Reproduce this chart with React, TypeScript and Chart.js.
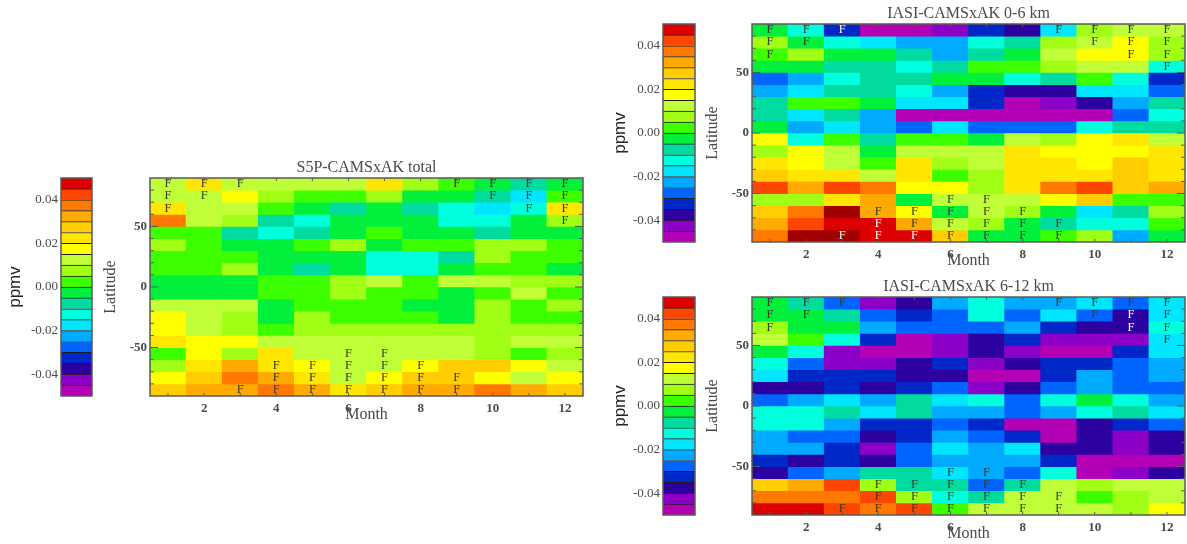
import React, { useEffect, useRef } from "react";
import { Chart, registerables } from "chart.js";

Chart.register(...registerables);

// Colour classes of the scale, bottom to top; each class is 0.005 ppmv wide, from -0.05 to 0.05.
const levelColors = [
  "#b400b4", "#8c00c8", "#2d00a0", "#0028c8", "#0064ff", "#00aaff", "#00e6ff", "#00ffdc", "#00dca0", "#00f03c",
  "#3cff00", "#a0ff14", "#c0ff38", "#ffff00", "#ffe600", "#ffcd00", "#ffaa00", "#ff7800", "#ff4600", "#dc0000",
  "#a00000",
];
const barEdges = [
  -0.05, -0.045, -0.04, -0.035, -0.03, -0.025, -0.02, -0.015, -0.01, -0.005,
  0, 0.005, 0.01, 0.015, 0.02, 0.025, 0.03, 0.035, 0.04, 0.045, 0.05,
];
const barTicks = [-0.04, -0.02, 0, 0.02, 0.04];
const months = [1, 2, 3, 4, 5, 6, 7, 8, 9, 10, 11, 12];
const latTops = [90, 80, 70, 60, 50, 40, 30, 20, 10, 0, -10, -20, -30, -40, -50, -60, -70, -80];
const latTicks = [-50, 0, 50];
const latMinor = [-80, -70, -60, -40, -30, -20, -10, 10, 20, 30, 40, 60, 70, 80];

// Colour class per latitude band (north to south) and month.
const s5pTotal = [
  [12, 14, 12, 12, 12, 12, 14, 11, 10, 9, 8, 9],
  [12, 12, 13, 11, 10, 10, 11, 9, 9, 8, 6, 10],
  [14, 12, 12, 10, 9, 8, 9, 8, 7, 6, 7, 14],
  [17, 12, 11, 8, 7, 9, 9, 9, 7, 7, 9, 11],
  [10, 10, 8, 7, 8, 9, 10, 9, 9, 8, 9, 9],
  [11, 10, 9, 9, 10, 11, 9, 10, 10, 11, 11, 10],
  [10, 10, 10, 9, 9, 9, 7, 7, 8, 11, 10, 10],
  [10, 10, 11, 9, 8, 9, 7, 7, 9, 10, 10, 9],
  [9, 9, 9, 10, 10, 11, 12, 10, 12, 12, 11, 11],
  [9, 9, 9, 10, 10, 11, 10, 10, 9, 10, 12, 10],
  [12, 12, 12, 9, 10, 10, 10, 9, 9, 11, 10, 11],
  [13, 12, 11, 9, 11, 10, 10, 10, 9, 11, 10, 10],
  [13, 12, 11, 10, 11, 11, 11, 11, 11, 11, 11, 11],
  [14, 13, 13, 12, 12, 12, 12, 12, 12, 11, 12, 12],
  [10, 13, 11, 14, 12, 12, 12, 12, 12, 11, 10, 11],
  [11, 14, 16, 14, 13, 12, 12, 13, 15, 15, 13, 12],
  [13, 15, 17, 16, 14, 12, 13, 15, 15, 13, 12, 13],
  [15, 16, 16, 17, 16, 14, 15, 16, 16, 17, 16, 15],
];
const iasi0to6 = [
  [9, 7, 3, 0, 0, 1, 3, 2, 6, 11, 12, 12],
  [11, 9, 7, 6, 5, 5, 7, 8, 11, 12, 13, 11],
  [10, 11, 9, 9, 8, 5, 8, 9, 12, 13, 13, 11],
  [9, 9, 8, 8, 7, 8, 10, 10, 11, 12, 12, 7],
  [4, 5, 7, 8, 8, 9, 9, 7, 8, 10, 7, 3],
  [5, 6, 8, 8, 7, 5, 3, 2, 2, 6, 6, 4],
  [8, 10, 10, 9, 6, 6, 3, 0, 1, 2, 5, 8],
  [8, 6, 8, 5, 0, 0, 0, 0, 0, 0, 4, 7],
  [9, 5, 6, 5, 4, 6, 4, 4, 4, 7, 8, 8],
  [13, 7, 10, 8, 10, 10, 9, 12, 11, 13, 14, 12],
  [11, 13, 12, 9, 12, 12, 12, 14, 13, 13, 13, 14],
  [14, 13, 12, 10, 14, 11, 12, 14, 14, 13, 15, 14],
  [15, 14, 14, 12, 14, 10, 11, 14, 14, 14, 15, 14],
  [18, 16, 18, 17, 13, 13, 11, 14, 17, 18, 15, 16],
  [11, 11, 14, 16, 9, 12, 12, 12, 13, 15, 10, 10],
  [15, 17, 20, 16, 13, 9, 12, 11, 9, 6, 8, 11],
  [16, 18, 19, 19, 16, 12, 11, 9, 8, 7, 7, 10],
  [17, 20, 20, 19, 19, 15, 9, 9, 10, 11, 5, 9],
];
const iasi6to12 = [
  [9, 8, 4, 1, 2, 5, 7, 5, 5, 6, 4, 6],
  [9, 9, 8, 4, 3, 4, 7, 4, 6, 4, 2, 6],
  [11, 9, 9, 5, 4, 4, 4, 5, 3, 2, 2, 7],
  [12, 10, 7, 3, 0, 1, 2, 3, 1, 1, 1, 6],
  [9, 7, 1, 0, 0, 1, 2, 1, 0, 0, 3, 6],
  [7, 4, 1, 1, 2, 3, 1, 2, 3, 3, 4, 5],
  [6, 3, 3, 3, 2, 2, 0, 0, 3, 5, 4, 5],
  [2, 2, 3, 2, 3, 4, 1, 2, 4, 5, 4, 4],
  [4, 5, 6, 5, 8, 6, 7, 4, 7, 9, 7, 5],
  [7, 7, 8, 6, 8, 5, 5, 4, 5, 7, 8, 6],
  [7, 7, 5, 3, 3, 4, 3, 0, 0, 2, 3, 4],
  [5, 4, 4, 2, 3, 5, 4, 3, 0, 2, 1, 2],
  [5, 5, 3, 1, 4, 6, 5, 6, 2, 2, 1, 2],
  [3, 2, 3, 2, 4, 5, 5, 5, 3, 0, 0, 0],
  [2, 4, 5, 8, 8, 6, 5, 4, 7, 0, 1, 2],
  [15, 16, 18, 11, 8, 8, 4, 8, 12, 11, 12, 12],
  [17, 17, 17, 18, 11, 7, 8, 12, 12, 10, 11, 12],
  [19, 19, 18, 17, 18, 10, 12, 12, 12, 12, 11, 13],
];

// "F" flags: [latitude band top, month], the same cells in every panel.
const flagCells = [
  [90, 1], [90, 2], [90, 3], [90, 9], [90, 10], [90, 11], [90, 12],
  [80, 1], [80, 2], [80, 10], [80, 11], [80, 12],
  [70, 1], [70, 11], [70, 12],
  [60, 12],
  [-50, 6], [-50, 7],
  [-60, 4], [-60, 5], [-60, 6], [-60, 7], [-60, 8],
  [-70, 4], [-70, 5], [-70, 6], [-70, 7], [-70, 8], [-70, 9],
  [-80, 3], [-80, 4], [-80, 5], [-80, 6], [-80, 7], [-80, 8], [-80, 9],
];
const whiteFlags0to6 = [[90, 3], [-70, 4], [-80, 3], [-80, 4], [-80, 5]];
const whiteFlags6to12 = [[80, 11], [70, 11]];

const SERIF = '"Liberation Serif", serif';
const SANS = '"Liberation Sans", sans-serif';
const TEXT = "#4a4a4a";
const FRAME = "#5a5a5a";

const panels = [
  { title: "S5P-CAMSxAK total", rows: s5pTotal, white: [] as number[][], left: 149.5, top: 178, w: 433.5, h: 218, barLeft: 61, barW: 31, ppmvPad: 4.8 },
  { title: "IASI-CAMSxAK 0-6 km", rows: iasi0to6, white: whiteFlags0to6, left: 751.5, top: 24, w: 433.5, h: 218, barLeft: 663, barW: 32, ppmvPad: 7.8 },
  { title: "IASI-CAMSxAK 6-12 km", rows: iasi6to12, white: whiteFlags6to12, left: 751.5, top: 296.5, w: 433.5, h: 218, barLeft: 663, barW: 32, ppmvPad: 7.8 },
];

const Y_AXIS_W = 52;
const X_AXIS_H = 30;
const TITLE_H = 24;
const BAR_AXIS_W = 61;

function heatmapDecor(white: number[][]) {
  return {
    id: "heatmapDecor",
    afterDatasetsDraw(chart: any) {
      const { ctx, chartArea: a, scales } = chart;
      const x = scales.x;
      const y = scales.y;
      ctx.save();
      ctx.textAlign = "center";
      ctx.textBaseline = "middle";
      ctx.font = `12.5px ${SERIF}`;
      for (const [lat, m] of flagCells) {
        const isWhite = white.some((c) => c[0] === lat && c[1] === m);
        ctx.fillStyle = isWhite ? "#ffffff" : "#3a3a2a";
        ctx.fillText("F", x.getPixelForValue(m - 1), y.getPixelForValue(lat - 5));
      }
      ctx.strokeStyle = FRAME;
      ctx.lineWidth = 1;
      ctx.beginPath();
      for (const m of months) {
        const px = x.getPixelForValue(m - 1);
        ctx.moveTo(px, a.top);
        ctx.lineTo(px, a.top + 3);
        ctx.moveTo(px, a.bottom);
        ctx.lineTo(px, a.bottom - 3);
      }
      for (const lat of latMinor) {
        const py = y.getPixelForValue(lat);
        ctx.moveTo(a.left, py);
        ctx.lineTo(a.left + 4, py);
        ctx.moveTo(a.right, py);
        ctx.lineTo(a.right - 4, py);
      }
      for (const lat of latTicks) {
        const py = y.getPixelForValue(lat);
        ctx.moveTo(a.left, py);
        ctx.lineTo(a.left + 8, py);
        ctx.moveTo(a.right, py);
        ctx.lineTo(a.right - 8, py);
      }
      ctx.stroke();
      ctx.lineWidth = 1.5;
      ctx.strokeRect(a.left, a.top, a.right - a.left, a.bottom - a.top);
      ctx.restore();
    },
  };
}

const barFrame = {
  id: "barFrame",
  afterDatasetsDraw(chart: any) {
    const { ctx, chartArea: a } = chart;
    ctx.save();
    ctx.strokeStyle = FRAME;
    ctx.lineWidth = 1.5;
    ctx.strokeRect(a.left, a.top, a.right - a.left, a.bottom - a.top);
    ctx.restore();
  },
};

function makeHeatmap(canvas: HTMLCanvasElement, p: (typeof panels)[number]) {
  return new Chart(canvas, {
    type: "bar",
    data: {
      labels: months.map(String),
      datasets: p.rows.map((row, i) => ({
        label: `${latTops[i] - 10} to ${latTops[i]}`,
        data: row.map(() => [latTops[i] - 10, latTops[i]]),
        backgroundColor: row.map((k) => levelColors[k]),
        grouped: false,
        barPercentage: 1,
        categoryPercentage: 1,
        borderWidth: 0,
      })),
    } as any,
    options: {
      responsive: false,
      animation: false,
      layout: { padding: { left: 0, right: 3, top: 0, bottom: 0 } },
      plugins: {
        legend: { display: false },
        tooltip: { enabled: false },
        title: {
          display: true,
          text: p.title,
          fullSize: false,
          color: TEXT,
          font: { family: SERIF, size: 16, weight: "normal", lineHeight: 1.2 },
          padding: { top: 4, bottom: 0.8 },
        },
      },
      scales: {
        x: {
          grid: { display: false, drawTicks: false },
          border: { display: false },
          ticks: {
            autoSkip: false,
            maxRotation: 0,
            padding: 5,
            color: TEXT,
            font: { family: SERIF, size: 13, weight: "bold" },
            callback: (_v: any, i: number) => (months[i] % 2 === 0 ? String(months[i]) : ""),
          },
          title: {
            display: true,
            text: "Month",
            color: TEXT,
            font: { family: SERIF, size: 16, lineHeight: 1.2 },
            padding: { top: 0, bottom: 1.5 },
          },
          afterFit: (s: any) => {
            s.height = X_AXIS_H;
          },
        },
        y: {
          min: -90,
          max: 90,
          grid: { display: false, drawTicks: false },
          border: { display: false },
          afterBuildTicks: (s: any) => {
            s.ticks = latTicks.map((value) => ({ value }));
          },
          ticks: {
            padding: 3,
            color: TEXT,
            font: { family: SERIF, size: 13, weight: "bold" },
            callback: (v: any) => String(v),
          },
          title: {
            display: true,
            text: "Latitude",
            color: TEXT,
            font: { family: SERIF, size: 16, lineHeight: 1.2 },
            padding: { top: 3.4, bottom: 0 },
          },
          afterFit: (s: any) => {
            s.width = Y_AXIS_W;
            s.paddingTop = 0;
            s.paddingBottom = 0;
          },
        },
      },
    } as any,
    plugins: [heatmapDecor(p.white)],
  });
}

function makeColorBar(canvas: HTMLCanvasElement, p: (typeof panels)[number]) {
  return new Chart(canvas, {
    type: "bar",
    data: {
      labels: ["ppmv"],
      datasets: barEdges.slice(0, -1).map((edge, i) => ({
        label: String(edge),
        data: [[edge, barEdges[i + 1]]],
        backgroundColor: levelColors[i],
        borderColor: "#1c1c1c",
        borderWidth: i === 19 ? 0 : { top: 1, bottom: 0, left: 0, right: 0 },
        borderSkipped: false,
        grouped: false,
        barPercentage: 1,
        categoryPercentage: 1,
      })),
    } as any,
    options: {
      responsive: false,
      animation: false,
      layout: { padding: { left: 0, right: 2, top: 2, bottom: 2 } },
      plugins: { legend: { display: false }, tooltip: { enabled: false } },
      scales: {
        x: { display: false },
        y: {
          min: -0.05,
          max: 0.05,
          grid: { display: false, drawTicks: false },
          border: { display: false },
          afterBuildTicks: (s: any) => {
            s.ticks = barTicks.map((value) => ({ value }));
          },
          ticks: {
            padding: 3,
            color: TEXT,
            font: { family: SERIF, size: 13 },
            callback: (v: any) => Number(v).toFixed(2),
          },
          title: {
            display: true,
            text: "ppmv",
            color: "#222222",
            font: { family: SANS, size: 17, lineHeight: 1.2 },
            padding: { top: p.ppmvPad, bottom: 0 },
          },
          afterFit: (s: any) => {
            s.width = BAR_AXIS_W;
            s.paddingTop = 0;
            s.paddingBottom = 0;
          },
        },
      },
    } as any,
    plugins: [barFrame],
  });
}

export default function App() {
  const heatRefs = useRef<(HTMLCanvasElement | null)[]>([]);
  const barRefs = useRef<(HTMLCanvasElement | null)[]>([]);

  useEffect(() => {
    const charts = panels.flatMap((p, i) => [
      makeHeatmap(heatRefs.current[i]!, p),
      makeColorBar(barRefs.current[i]!, p),
    ]);
    return () => charts.forEach((c) => c.destroy());
  }, []);

  return (
    <div style={{ position: "fixed", left: 0, top: 0, width: 1187, height: 544, background: "#fff", overflow: "hidden", filter: "blur(0.45px)" }}>
      {panels.map((p, i) => (
        <React.Fragment key={p.title}>
          <canvas
            ref={(el) => {
              heatRefs.current[i] = el;
            }}
            width={Y_AXIS_W + p.w + 3}
            height={TITLE_H + p.h + X_AXIS_H}
            style={{ position: "absolute", display: "block", left: p.left - Y_AXIS_W, top: p.top - TITLE_H }}
          />
          <canvas
            ref={(el) => {
              barRefs.current[i] = el;
            }}
            width={BAR_AXIS_W + p.barW + 2}
            height={p.h + 4}
            style={{ position: "absolute", display: "block", left: p.barLeft - BAR_AXIS_W, top: p.top - 2 }}
          />
        </React.Fragment>
      ))}
    </div>
  );
}
